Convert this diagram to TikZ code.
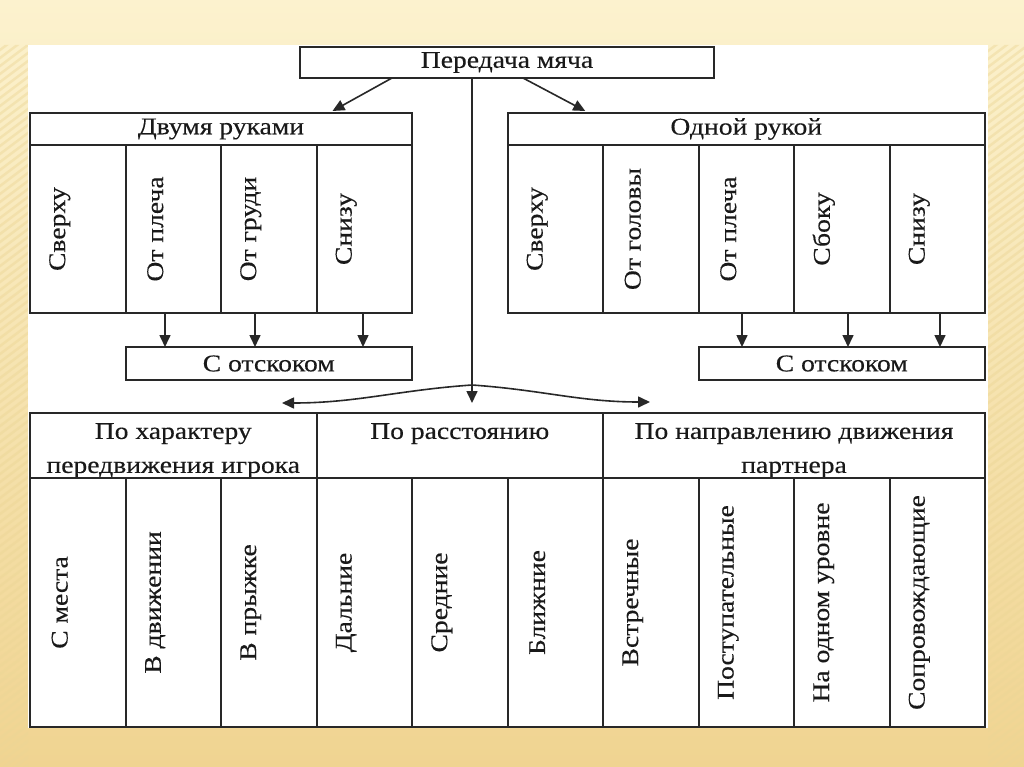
\documentclass[tikz,border=0pt]{standalone}
\usepackage{fontspec}
\setmainfont{Liberation Serif}[FakeStretch=1.15,FakeBold=0.3]
\usetikzlibrary{arrows.meta,calc}
\definecolor{bgtop}{RGB}{252,242,206}
\definecolor{bgbot}{RGB}{240,212,145}
\definecolor{stripe}{RGB}{236,214,150}
\definecolor{ln}{RGB}{40,40,40}
\begin{document}
\begin{tikzpicture}[x=1pt,y=-1pt,
  box/.style={draw=ln, line width=2pt, fill=white, anchor=north west, inner sep=0pt, outer sep=0pt,
    text=black!90, font=\fontsize{24}{34}\selectfont},
  txt/.style={text=black!90, font=\fontsize{24}{34}\selectfont, inner sep=0pt, align=center},
  vt/.style={txt, rotate=90},
  arr/.style={draw=ln, line width=1.6pt, -{Triangle[length=12pt,width=11pt]}},
  ln/.style={draw=ln, line width=1.6pt}
]
\useasboundingbox (0,0) rectangle (1024,767);
\shade[top color=bgtop, bottom color=bgbot] (0,0) rectangle (1024,767);
% faint stripes on side margins
\begin{scope}
  \clip (0,45) rectangle (28,767) (988,45) rectangle (1024,767);
  \foreach \k in {0,...,110}{
    \draw[stripe, line width=2.5pt, opacity=0.45] (-40,{\k*8}) -- (40,{\k*8-60});
    \draw[stripe, line width=2.5pt, opacity=0.45] (960,{\k*8}) -- (1040,{\k*8-60});
  }
\end{scope}
\fill[white] (28,45) rectangle (988,728);

% root
\node[box, minimum width=414pt, minimum height=31pt] (root) at (300,47) {Передача мяча};

% two hands
\node[box, minimum width=382pt, minimum height=32pt] (LH) at (30,113) {Двумя руками};
\foreach \i/\t in {0/Сверху,1/От плеча,2/От груди,3/Снизу}{
  \node[box, minimum width=95.5pt, minimum height=168pt] (L\i) at ({30+95.5*\i},145) {};
  \node[vt] (Lt\i) at ([xshift=-18pt]L\i.center) {\t};
}
\node[box, minimum width=286.5pt, minimum height=33pt] (LO) at (125.5,347) {С отскоком};

% one hand
\node[box, minimum width=477.5pt, minimum height=32pt] (RH) at (507.5,113) {Одной рукой};
\foreach \i/\t in {0/Сверху,1/От головы,2/От плеча,3/Сбоку,4/Снизу}{
  \node[box, minimum width=95.5pt, minimum height=168pt] (R\i) at ({507.5+95.5*\i},145) {};
  \node[vt] (Rt\i) at ([xshift=-18pt]R\i.center) {\t};
}
\node[box, minimum width=286.5pt, minimum height=33pt] (RO) at (698.5,347) {С отскоком};

% bottom table
\node[box, minimum width=286.5pt, minimum height=65pt] (B1) at (30,413) {};
\node[box, minimum width=286.5pt, minimum height=65pt] (B2) at (316.5,413) {};
\node[box, minimum width=382pt, minimum height=65pt] (B3) at (603,413) {};
\node[txt, anchor=north] (B1t) at ([yshift=-10pt]B1.north) {По характеру\\передвижения игрока};
\node[txt, anchor=north] (B2t) at ([yshift=-10pt]B2.north) {По расстоянию};
\node[txt, anchor=north] (B3t) at ([yshift=-10pt]B3.north) {По направлению движения\\партнера};
\foreach \i/\t in {0/С места,1/В движении,2/В прыжке,3/Дальние,4/Средние,5/Ближние,6/Встречные,7/Поступательные,8/На одном уровне,9/Сопровождающие}{
  \node[box, minimum width=95.5pt, minimum height=249pt] (D\i) at ({30+95.5*\i},478) {};
  \node[vt] (Dt\i) at ([xshift=-18pt]D\i.center) {\t};
}

% connectors from root
\draw[arr] ([xshift=-115pt]root.south) -- ([shift={(111.5pt,2pt)}]LH.north);
\draw[arr] ([xshift=16pt]root.south) -- ([shift={(-161pt,2pt)}]RH.north);

\coordinate (J) at (472,385);
\coordinate (TC) at (472,403);
\coordinate (TL) at (282,403);
\coordinate (TR) at (650,402);
\draw[ln] (root.south -| J) -- (J);
\draw[arr] (J) -- (TC);
\draw[arr] (J) to[out=184,in=0] (TL);
\draw[arr] (J) to[out=-4,in=180] (TR);

% rebound arrows
\foreach \x [count=\k] in {165,255,363}{
  \coordinate (la\k) at (\x,347);
  \draw[arr] (la\k |- L0.south) -- (la\k);
}
\foreach \x [count=\k] in {742,848,940}{
  \coordinate (ra\k) at (\x,347);
  \draw[arr] (ra\k |- R0.south) -- (ra\k);
}
\end{tikzpicture}
\end{document}
